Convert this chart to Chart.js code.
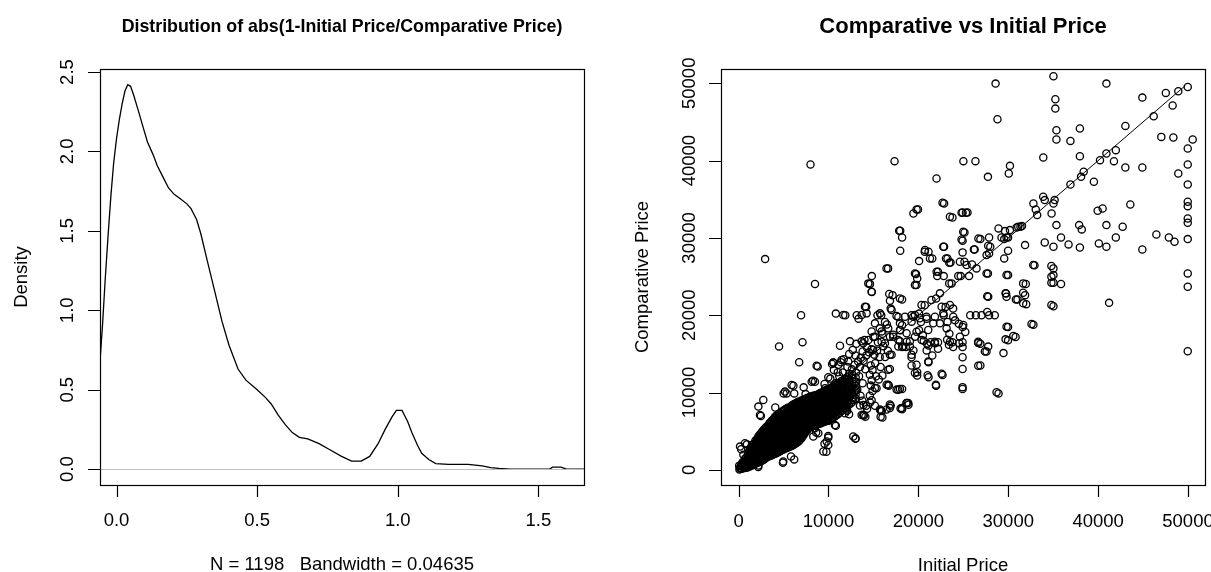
<!DOCTYPE html>
<html>
<head>
<meta charset="utf-8">
<script src="https://cdn.jsdelivr.net/npm/chart.js@4.4.0/dist/chart.umd.min.js"></script>
<style>
  html, body { margin: 0; padding: 0; background: #fff; }
  #wrap { position: relative; width: 1211px; height: 572px; overflow: hidden; }
  .panel { position: absolute; top: 0; height: 572px; }
  #densityPanel { left: 0; width: 605px; }
  #scatterPanel { left: 605px; width: 606px; }
</style>
</head>
<body>
<div id="wrap">
  <div class="panel" id="densityPanel"><canvas id="densityChart"></canvas></div>
  <div class="panel" id="scatterPanel"><canvas id="scatterChart"></canvas></div>
</div>
<script>
// DENSITY CURVE (left panel)
const densityX = [-0.0587, -0.05, -0.04, -0.03, -0.02, -0.01, 0, 0.01, 0.02, 0.03, 0.04, 0.05, 0.06, 0.077, 0.095,
  0.11, 0.13, 0.145, 0.165, 0.185, 0.205, 0.228, 0.25, 0.265, 0.285, 0.3, 0.323, 0.349, 0.375, 0.4, 0.432, 0.46,
  0.5, 0.53, 0.55, 0.575, 0.6, 0.625, 0.65, 0.68, 0.72, 0.76, 0.8, 0.836, 0.87, 0.9, 0.93, 0.955, 0.98, 0.995,
  1.015, 1.035, 1.05, 1.07, 1.085, 1.11, 1.135, 1.18, 1.25, 1.3, 1.33, 1.36, 1.4, 1.5, 1.54, 1.55, 1.58, 1.6, 1.662];
const densityY = [0.68, 0.9, 1.2, 1.47, 1.72, 1.93, 2.08, 2.2, 2.3, 2.38, 2.42, 2.41, 2.36, 2.26, 2.15,
  2.06, 1.98, 1.91, 1.84, 1.77, 1.73, 1.70, 1.67, 1.64, 1.57, 1.48, 1.31, 1.12, 0.93, 0.78, 0.63, 0.56,
  0.50, 0.45, 0.41, 0.34, 0.28, 0.23, 0.20, 0.19, 0.16, 0.12, 0.08, 0.05, 0.05, 0.08, 0.16, 0.25, 0.33, 0.37,
  0.37, 0.30, 0.23, 0.15, 0.10, 0.06, 0.035, 0.03, 0.03, 0.02, 0.01, 0.005, 0, 0, 0, 0.012, 0.012, 0, 0];
const densityTicksX = [0, 0.5, 1, 1.5];
const densityTickLabelsX = ['0.0', '0.5', '1.0', '1.5'];
const densityTicksY = [0, 0.5, 1, 1.5, 2, 2.5];
const densityTickLabelsY = ['0.0', '0.5', '1.0', '1.5', '2.0', '2.5'];

// PRICE SCATTER (right panel): [initial price, comparative price]
// dense band near the origin
const clusterPoints = [
  [90,40],[150,280],[60,520],[200,150],
  [380,130],[420,420],[360,720],[440,980],
  [680,230],[720,520],[690,820],[740,1120],[700,1440],
  [980,320],[1030,640],[960,960],[1040,1290],[1000,1620],[1020,1960],
  [1290,470],[1320,800],[1270,1130],[1340,1460],[1300,1800],[1280,2130],[1330,2460],[1300,2760],
  [1600,620],[1570,960],[1630,1300],[1590,1640],[1620,1980],[1580,2320],[1640,2660],[1600,3000],[1570,3280],
  [1890,820],[1930,1160],[1870,1500],[1920,1850],[1900,2190],[1940,2530],[1880,2870],[1910,3210],[1930,3550],[1870,3790],
  [2200,960],[2170,1310],[2230,1660],[2190,2010],[2240,2360],[2180,2710],[2210,3060],[2250,3410],[2170,3760],[2220,4100],[2190,4320],
  [2490,1110],[2530,1470],[2470,1830],[2520,2190],[2480,2550],[2540,2910],[2500,3270],[2460,3630],[2530,3990],[2490,4350],[2510,4780],
  [2790,1310],[2820,1670],[2770,2030],[2830,2390],[2800,2750],[2760,3110],[2840,3470],[2790,3830],[2810,4190],[2770,4550],[2830,4910],[2800,5200],
  [3100,1600],[3130,1960],[3080,2320],[3120,2680],[3090,3040],[3140,3400],[3070,3760],[3110,4120],[3130,4480],[3080,4840],[3120,5200],[3100,5580],
  [3400,1750],[3370,2110],[3420,2470],[3390,2840],[3430,3200],[3380,3560],[3410,3930],[3440,4290],[3390,4650],[3420,5020],[3370,5380],[3410,5740],[3400,6000],
  [3700,1900],[3730,2270],[3680,2640],[3720,3010],[3690,3380],[3740,3750],[3700,4120],[3670,4490],[3720,4860],[3700,5230],[3740,5600],[3690,5970],[3710,6420],
  [3990,2050],[4030,2420],[3970,2790],[4010,3160],[4040,3530],[3980,3900],[4020,4270],[4000,4640],[4030,5010],[3970,5380],[4010,5750],[4040,6120],[3990,6480],[4020,6790],
  [4300,2200],[4270,2570],[4320,2950],[4290,3320],[4330,3700],[4280,4070],[4310,4450],[4340,4820],[4290,5200],[4320,5570],[4270,5950],[4310,6320],[4330,6700],[4290,7080],
  [4600,2400],[4630,2770],[4580,3140],[4620,3510],[4590,3880],[4640,4250],[4600,4620],[4570,4990],[4620,5360],[4600,5730],[4640,6100],[4590,6470],[4610,6840],[4580,7330],
  [4900,2600],[4870,2970],[4920,3340],[4890,3710],[4930,4080],[4880,4450],[4910,4820],[4940,5190],[4890,5560],[4920,5930],[4870,6300],[4910,6670],[4930,7040],[4880,7580],
  [5200,2750],[5230,3120],[5180,3500],[5220,3870],[5190,4250],[5240,4620],[5200,5000],[5170,5370],[5220,5750],[5200,6120],[5240,6500],[5190,6870],[5210,7250],[5180,7840],
  [5500,2900],[5470,3280],[5520,3660],[5490,4040],[5530,4420],[5480,4800],[5510,5180],[5540,5560],[5490,5940],[5520,6320],[5470,6700],[5510,7080],[5530,7460],[5490,8030],
  [5800,3050],[5830,3430],[5780,3810],[5820,4190],[5790,4570],[5840,4950],[5800,5330],[5770,5710],[5820,6090],[5800,6470],[5840,6850],[5790,7230],[5810,7610],[5780,7950],[5830,8240],
  [6100,3200],[6070,3580],[6120,3960],[6090,4340],[6130,4720],[6080,5100],[6110,5480],[6140,5860],[6090,6240],[6120,6620],[6070,7000],[6110,7380],[6130,7760],[6080,8120],[6100,8440],
  [6400,3450],[6430,3830],[6380,4210],[6420,4590],[6390,4970],[6440,5350],[6400,5730],[6370,6110],[6420,6490],[6400,6870],[6440,7250],[6390,7630],[6410,8010],[6380,8360],[6430,8640],
  [6700,3700],[6670,4080],[6720,4460],[6690,4840],[6730,5220],[6680,5600],[6710,5980],[6740,6360],[6690,6740],[6720,7120],[6670,7500],[6710,7880],[6730,8260],[6690,8600],[6700,8840],
  [7000,4100],[7030,4480],[6980,4860],[7020,5240],[6990,5620],[7040,6000],[7000,6380],[6970,6760],[7020,7140],[7000,7520],[7040,7900],[6990,8280],[7010,8650],[7020,8990],
  [7300,4600],[7270,4980],[7320,5360],[7290,5740],[7330,6120],[7280,6500],[7310,6880],[7340,7260],[7290,7640],[7320,8020],[7270,8400],[7310,8780],[7300,9140],
  [7600,5100],[7630,5470],[7580,5840],[7620,6210],[7590,6580],[7640,6950],[7600,7320],[7570,7690],[7620,8060],[7600,8430],[7640,8800],[7590,9290],
  [7900,5500],[7870,5870],[7920,6240],[7890,6610],[7930,6980],[7880,7350],[7910,7720],[7940,8090],[7890,8460],[7920,8830],[7870,9200],[7910,9440],
  [8200,5650],[8230,6020],[8180,6390],[8220,6760],[8190,7130],[8240,7500],[8200,7870],[8170,8240],[8220,8610],[8200,8980],[8240,9350],[8190,9540],
  [8500,5750],[8470,6130],[8520,6510],[8490,6890],[8530,7270],[8480,7650],[8510,8030],[8540,8410],[8490,8790],[8520,9170],[8470,9640],
  [8800,5900],[8830,6280],[8780,6660],[8820,7040],[8790,7420],[8840,7800],[8800,8180],[8770,8560],[8820,8940],[8800,9320],[8840,9790],
  [9100,6000],[9070,6390],[9120,6780],[9090,7170],[9130,7560],[9080,7950],[9110,8340],[9140,8730],[9090,9120],[9120,9510],[9070,9940],
  [9400,6150],[9430,6550],[9380,6950],[9420,7350],[9390,7750],[9440,8150],[9400,8550],[9370,8950],[9420,9350],[9400,9750],[9440,10090],
  [9700,6300],[9670,6710],[9720,7120],[9690,7530],[9730,7940],[9680,8350],[9710,8760],[9740,9170],[9690,9580],[9720,9990],[9680,10290],
  [10000,6450],[10030,6870],[9980,7290],[10020,7710],[9990,8130],[10040,8550],[10000,8970],[9970,9390],[10020,9810],[10000,10230],[10040,10490],
  [10350,6650],[10320,7080],[10370,7510],[10340,7940],[10380,8370],[10330,8800],[10360,9230],[10390,9660],[10340,10090],[10370,10690],
  [10700,6900],[10730,7340],[10680,7780],[10720,8220],[10690,8660],[10740,9100],[10700,9540],[10670,9980],[10720,10420],[10700,10940],
  [11050,7200],[11020,7660],[11070,8120],[11040,8580],[11080,9040],[11030,9500],[11060,9960],[11090,10420],[11040,10850],[11060,11190],
  [11450,7600],[11420,8070],[11470,8540],[11440,9010],[11480,9480],[11430,9950],[11460,10420],[11490,10890],[11440,11480],
  [11850,8000],[11880,8480],[11830,8960],[11870,9440],[11840,9920],[11890,10400],[11850,10880],[11820,11360],[11870,11790],
  [12250,8400],[12220,8900],[12270,9400],[12240,9900],[12280,10400],[12230,10900],[12260,11400],[12240,12080],
  [12650,8800],[12680,9320],[12630,9840],[12670,10360],[12640,10880],[12690,11400],[12650,11900],[12630,12380],
  [13050,9200],[13020,9750],[13070,10300],[13040,10850],[13080,11400],[13030,11950],[13060,12580]
];
// more points packed inside the same band
const clusterFillPoints = [
  [250,220],[260,520],
  [540,280],[560,570],[550,850],
  [840,280],[860,580],[850,890],[870,1210],[830,1530],
  [1140,400],[1160,720],[1130,1050],[1170,1380],[1150,1710],[1140,2050],[1160,2380],
  [1440,550],[1460,880],[1430,1220],[1470,1550],[1450,1890],[1440,2230],[1460,2560],[1450,2880],
  [1740,720],[1760,1060],[1730,1400],[1770,1740],[1750,2080],[1740,2430],[1760,2760],[1750,3100],[1740,3420],
  [2040,890],[2060,1230],[2030,1580],[2070,1930],[2050,2270],[2040,2620],[2060,2960],[2050,3310],[2040,3650],[2060,3950],
  [2340,1040],[2360,1390],[2330,1750],[2370,2100],[2350,2450],[2340,2810],[2360,3160],[2350,3520],[2340,3870],[2360,4210],[2350,4550],
  [2640,1210],[2660,1570],[2630,1930],[2670,2290],[2650,2650],[2640,3010],[2660,3370],[2650,3730],[2640,4090],[2660,4450],[2650,4990],
  [2940,1450],[2960,1810],[2930,2170],[2970,2530],[2950,2890],[2940,3250],[2960,3610],[2950,3970],[2940,4330],[2960,4690],[2950,5050],[2940,5390],
  [3240,1680],[3260,2040],[3230,2400],[3270,2760],[3250,3120],[3240,3480],[3260,3840],[3250,4200],[3240,4560],[3260,4930],[3250,5290],[3240,5660],
  [3540,1830],[3560,2190],[3530,2560],[3570,2920],[3550,3290],[3540,3650],[3560,4020],[3550,4380],[3540,4750],[3560,5120],[3550,5490],[3540,5850],[3560,6200],
  [3840,1980],[3860,2350],[3830,2720],[3870,3090],[3850,3460],[3840,3830],[3860,4200],[3850,4570],[3840,4940],[3860,5310],[3850,5680],[3840,6050],[3860,6500],
  [4140,2130],[4160,2500],[4130,2870],[4170,3240],[4150,3620],[4140,3990],[4160,4360],[4150,4740],[4140,5110],[4160,5480],[4150,5850],[4140,6220],[4160,6600],[4150,6950],
  [4440,2300],[4460,2670],[4430,3050],[4470,3420],[4450,3790],[4440,4160],[4460,4540],[4450,4910],[4440,5280],[4460,5650],[4450,6030],[4440,6400],[4460,6770],[4450,7200],
  [4740,2500],[4760,2870],[4730,3240],[4770,3610],[4750,3980],[4740,4350],[4760,4720],[4750,5090],[4740,5460],[4760,5830],[4750,6200],[4740,6570],[4760,6940],[4750,7450],
  [5040,2680],[5060,3050],[5030,3420],[5070,3790],[5050,4170],[5040,4540],[5060,4910],[5050,5280],[5040,5650],[5060,6030],[5050,6400],[5040,6770],[5060,7140],[5050,7700],
  [5340,2830],[5360,3200],[5330,3580],[5370,3960],[5350,4340],[5340,4710],[5360,5090],[5350,5470],[5340,5840],[5360,6220],[5350,6600],[5340,6970],[5360,7350],[5350,7930],
  [5640,2980],[5660,3360],[5630,3740],[5670,4120],[5650,4500],[5640,4880],[5660,5260],[5650,5640],[5640,6020],[5660,6400],[5650,6780],[5640,7160],[5660,7540],[5650,8000],
  [5940,3130],[5960,3510],[5930,3890],[5970,4270],[5950,4650],[5940,5030],[5960,5410],[5950,5790],[5940,6170],[5960,6550],[5950,6930],[5940,7310],[5960,7690],[5950,8080],[5940,8340],
  [6240,3330],[6260,3710],[6230,4090],[6270,4470],[6250,4850],[6240,5230],[6260,5610],[6250,5990],[6240,6370],[6260,6750],[6250,7130],[6240,7510],[6260,7890],[6250,8240],[6240,8540],
  [6540,3580],[6560,3960],[6530,4340],[6570,4720],[6550,5100],[6540,5480],[6560,5860],[6550,6240],[6540,6620],[6560,7000],[6550,7380],[6540,7760],[6560,8140],[6550,8480],[6540,8740],
  [6840,3900],[6860,4280],[6830,4660],[6870,5040],[6850,5420],[6840,5800],[6860,6180],[6850,6560],[6840,6940],[6860,7320],[6850,7700],[6840,8080],[6860,8460],[6850,8800],
  [7140,4350],[7160,4730],[7130,5110],[7170,5490],[7150,5870],[7140,6250],[7160,6630],[7150,7010],[7140,7390],[7160,7770],[7150,8150],[7140,8530],[7160,8900],
  [7440,4850],[7460,5220],[7430,5600],[7470,5970],[7450,6350],[7440,6720],[7460,7100],[7450,7470],[7440,7850],[7460,8220],[7450,8600],[7440,9000],
  [7740,5300],[7760,5670],[7730,6040],[7770,6410],[7750,6780],[7740,7150],[7760,7520],[7750,7890],[7740,8260],[7760,8630],[7750,9050],
  [8040,5580],[8060,5950],[8030,6320],[8070,6690],[8050,7060],[8040,7430],[8060,7800],[8050,8170],[8040,8540],[8060,8910],[8050,9300],
  [8340,5700],[8360,6080],[8330,6460],[8370,6840],[8350,7220],[8340,7600],[8360,7980],[8350,8360],[8340,8740],[8360,9120],[8350,9450],
  [8640,5830],[8660,6210],[8630,6590],[8670,6970],[8650,7350],[8640,7730],[8660,8110],[8650,8490],[8640,8870],[8660,9250],[8650,9580],
  [8940,5950],[8960,6330],[8930,6720],[8970,7110],[8950,7490],[8940,7880],[8960,8260],[8950,8650],[8940,9030],[8960,9420],[8950,9750],
  [9240,6080],[9260,6470],[9230,6870],[9270,7260],[9250,7660],[9240,8050],[9260,8450],[9250,8840],[9240,9240],[9260,9630],[9250,9970],
  [9540,6230],[9560,6630],[9530,7040],[9570,7440],[9550,7850],[9540,8250],[9560,8660],[9550,9060],[9540,9470],[9560,9870],[9550,10150],
  [9840,6380],[9860,6790],[9830,7210],[9870,7620],[9850,8040],[9840,8450],[9860,8870],[9850,9280],[9840,9700],[9860,10110],[9850,10400],
  [10170,6550],[10190,6980],[10160,7400],[10200,7830],[10180,8250],[10170,8680],[10190,9100],[10180,9530],[10170,9950],[10190,10400],
  [10520,6780],[10540,7210],[10510,7650],[10550,8080],[10530,8520],[10520,8950],[10540,9390],[10530,9820],[10520,10260],[10540,10750],
  [10870,7050],[10890,7500],[10860,7950],[10900,8400],[10880,8850],[10870,9300],[10890,9750],[10880,10200],[10870,10640],[10890,11000],
  [11240,7400],[11260,7870],[11230,8330],[11270,8800],[11250,9260],[11240,9730],[11260,10190],[11250,10660],[11240,11200],
  [11640,7800],[11660,8280],[11630,8750],[11670,9230],[11650,9700],[11640,10180],[11660,10650],[11650,11130],[11640,11600],
  [12040,8200],[12060,8690],[12030,9180],[12070,9670],[12050,10160],[12040,10650],[12060,11140],[12050,11700]
];
// scattered points around the band and in the middle of the range
const midPoints = [
  [160,3010],[710,3450],[530,1940],[290,2660],[930,3300],[2200,560],[2190,360],[4970,1080],[4930,910],[5830,1720],
  [6190,1350],[9430,2370],[9800,3660],[9560,3390],[9980,3220],[9770,2350],[9980,4170],[9980,4390],[8630,4820],[8310,4310],
  [8870,4740],[8490,5380],[10720,5810],[12760,4310],[13010,4040],[10820,5690],[9980,6340],[11830,7320],[12080,7640],[12290,7200],
  [13690,7110],[13870,7140],[14100,6860],[15800,6870],[15910,7600],[16460,7810],[16000,6770],[15870,7640],[16920,8280],[18190,7850],
  [18900,8420],[18020,7920],[18690,8660],[2200,8180],[2380,7110],[2750,9040],[2480,6980],[4080,8070],[5160,10120],[5900,10980],
  [5010,9890],[5350,9890],[6190,9890],[6100,10890],[7240,10670],[7450,9800],[7870,9370],[8130,11410],[8290,11540],[8500,11400],
  [9560,11100],[9610,10550],[9980,11970],[10400,13700],[10540,13870],[11460,14210],[11370,13920],[11030,12620],[10720,9480],[8680,13470],
  [10530,13900],[6950,19990],[4500,15970],[7110,16520],[6740,13920],[8800,13360],[10820,20210],[11650,20030],[11870,19990],[13140,19990],
  [13350,19560],[14190,21080],[15450,19990],[15870,19990],[16290,19130],[16920,20860],[17770,19780],[18190,18700],[17980,18050],[19240,19990],
  [20080,20210],[20290,19130],[20080,18050],[20500,17400],[20920,19560],[20710,21300],[21980,22170],[21130,16100],[20920,15450],[21340,16520],
  [22190,16520],[22190,15660],[21550,14800],[21130,13920],[21130,11970],[21970,10890],[22690,12270],[19870,12620],[19870,12190],[19240,13490],
  [19240,14570],[19450,15450],[18190,15880],[18610,15880],[18190,10460],[16710,10890],[15870,7640],[13010,4040],[14610,24030],[14820,23020],
  [17130,22600],[18190,22030],[19790,23900],[27660,22470],[29760,22820],[31030,22030],[31870,22600],[32000,21430],[35030,21170],[41220,21600],
  [49970,15350],[23240,19130],[22820,19990],[23030,21080],[23870,20860],[24080,19340],[24500,18910],[24920,18480],[25220,17830],[24920,16520],
  [24920,15880],[24920,14570],[24920,13050],[24920,10700],[24920,10450],[23790,16520],[23870,15880],[23450,17610],[25770,19990],[26400,19990],
  [27030,19990],[27660,20430],[27870,19990],[28500,19990],[26900,16300],[27580,15310],[26900,13490],[29470,15100],[29980,18480],[29980,16750],
  [30820,17180],[32800,18780],[28920,9890],[26660,16410],[27400,15320],[26660,13480],[28700,10030],[22590,12440],[21950,11020],[21030,12230],
  [20970,16300],[21100,14030],[20600,16700],[21850,16390],[23200,16830],[23400,16190],[19620,12530],[19800,13600],[19250,14890],[19060,15970],
  [18320,15970],[17770,15970],[16830,14890],[16830,13050],[16650,11020],[17950,10460],[17580,10380],[18690,8660],[16830,8450],[15170,8290],
  [14620,8720],[13940,7020],[15350,10550],[14800,9000],[14600,9600],[14900,10200],[14700,10900],[14800,11600],[14600,12300],[14900,12900],
  [11200,12100],[11600,12600],[11900,11800],[12300,12400],[12600,13000],[12100,13300],[12900,13600],[13300,14000],[13600,14500],[13900,14100],
  [14200,14800],[14500,15200],[14800,15600],[14300,15800],[13800,15300],[15100,14900],[15400,15400],[15700,14600],[15200,13800],[14700,13500],
  [15300,12100],[15600,11700],[16000,12200],[15800,13300],[16300,14600],[16600,15400],[16100,16000],[13100,16300],[12700,15500],[12300,15000],
  [11700,14300],[11100,13600],[10600,12900],[10200,11800],[10800,11200],[11400,10600],[12000,10100],[12600,9900],[13200,10400],[13800,11200],
  [13400,12100],[12900,11400],[13000,9200],[12500,8600],[11800,9200],[11300,9500],[10900,10100],[13900,8400],[14300,7900],[13500,13300],
  [14100,13000],[12200,14000],[13000,14800],[15500,16500],[14000,16800],[15000,17200],[16000,17600],[15700,18300],[16500,18800],[11280,16060],
  [12390,16620],[13690,16620],[14800,17910],[15910,17910],[17200,17480],[17950,16620],[19060,16620],[17020,14900],[16650,12960],[15170,10590],
  [16470,11020],[17760,10370],[16830,8010],[18140,8010],[18870,8660],[15720,7790],[12020,7790],[13500,8310],[12760,9080],[9560,8280],
  [9770,7200],[9980,6340],[10610,10450],[11030,9800],[10190,9150],[12080,11970],[11660,11320],[12920,10240],[13560,9590],[13770,8940],
  [14190,8280],[14060,21100],[14430,24120],[14800,23040],[15730,20240],[14240,20240],[13690,20030],[15170,18950],[16650,18300],[17950,18950],
  [18690,17660],[19800,17870],[21100,18090],[21660,18950],[22400,18950],[23140,18300],[23880,19810],[24990,18740],[23510,16580],[24550,16370],
  [24620,17230],[21840,16580],[20360,16800],[19620,17230],[18690,16580],[17770,16800],[16840,17230],[15910,16580],[15170,17230],[14430,16800],
  [13870,16370],[23510,21320],[22590,21100],[22770,20240],[21840,19810],[20910,19810],[20160,19600],[19620,20030],[19250,19170],[18510,19810],
  [17570,19900],[17020,20670],[16840,21880],[17950,22180],[16760,22740],[29810,22400],[29810,18520],[29700,16880],[30560,17310],[26650,16580],
  [27770,15940],[29700,22830],[31660,22910],[30850,22050],[31660,21540],[32590,18860],[34800,21320],[27770,22400],
  [14980,15500],[16280,16370],[17200,17230],[17950,18090],[19430,19810],[20350,21320],[21460,21970],[22400,22830],[23430,24120],[24440,25070],
  [24620,26920],[27590,27780],[27770,28990],[29250,30060],[29810,30060]
];
// sparse points in the upper part of the range
const outerPoints = [
  [2950,27260],[8000,39500],[8500,24030],[17350,39930],[28590,49960],[28800,45350],[25010,39930],[26350,39930],[22020,37690],[27740,37900],
  [30190,39320],[30060,38330],[35030,50910],[35240,47940],[35240,46730],[35360,43930],[35360,42730],[36920,42550],[37970,44150],[40920,49960],
  [43030,44490],[44920,48150],[46180,45740],[47530,48760],[48290,47120],[48920,48970],[49970,49530],[47030,43070],[48370,42980],[50520,42730],
  [49970,41560],[49970,39500],[48920,38330],[49970,36910],[49970,34670],[49970,34110],[49970,32520],[49970,31960],[49970,29850],[48500,29500],
  [47870,30060],[46480,30450],[44920,28510],[44920,39110],[43030,39110],[43580,34330],[41760,39930],[41970,41350],[40920,40920],[40210,40060],
  [37970,40570],[38390,38550],[38100,37900],[39530,37260],[36920,36910],[33890,35320],[32800,34460],[33060,33680],[33220,32950],[34820,33160],
  [35160,34890],[35360,31660],[34060,29420],[35030,28860],[35870,30060],[36710,29160],[37970,28770],[37890,31660],[38180,31100],[39950,33510],
  [40500,33810],[40920,31660],[40080,29290],[40920,28860],[41970,30060],[42730,31440],[31870,29070],[31360,31440],[30190,31010],[29640,30880],
  [28920,31230],[29550,29850],[29980,30060],[27870,30060],[26900,29850],[28000,28860],[29980,28340],[29550,27350],[27870,28000],[26260,28510],
  [25130,30710],[24920,29640],[24920,28130],[25130,26920],[25970,26570],[26470,26060],[27740,25410],[29980,25190],[24920,33290],[25470,33290],
  [23790,32650],[22860,34460],[22860,28860],[23240,27350],[23580,26830],[21130,28210],[20710,28210],[21550,27350],[20080,27000],[19450,33160],
  [19960,33680],[17980,30920],[18190,30060],[17980,28340],[16630,26060],[22190,25630],[22820,25060],[22100,25060],[19740,25320],[19870,24750],
  [14820,25060],[14610,24030],[31950,24030],[32920,26480],[35030,26060],[35030,25190],[35030,24200],[35870,24030],[49970,25410],[49970,23690],
  [23700,24120],[24710,25060],[25640,25060],[31110,31440],[31530,31530],[34060,34890],[35030,34460],[33900,40400],[30930,31350],[32780,26490],
  [34800,26360],[34800,24980],[34800,24210],[31660,24120],[29810,25200],[27590,25410],[25370,26490],[22030,25630],[19620,25410],[19620,23900],
  [23070,27350],[23440,26790],[21290,27350],[20740,28430],[22770,28860],[26180,28510],[26680,29930],[24990,30790],[24810,29800],[24810,33250],
  [25300,33250],[23510,32730],[22690,34540],[19800,33680],[17870,30920],[16460,26060]
];
const fitLine = [[0, 0], [49700, 49700]];
const priceTicks = [0, 10000, 20000, 30000, 40000, 50000];
const priceTickLabels = ['0', '10000', '20000', '30000', '40000', '50000'];

// R-STYLE FRAME: box, outward ticks, rotated y labels, titles
const FONT = '"Liberation Sans", Arial, sans-serif';
const rFrame = {
  id: 'rFrame',
  afterDatasetsDraw(chart, args, o) {
    const { ctx, chartArea: a } = chart;
    const xs = chart.scales.x, ys = chart.scales.y;
    ctx.save();
    if (o.zeroLine) {
      const y0 = Math.round(ys.getPixelForValue(0)) + 0.5;
      ctx.strokeStyle = '#bebebe';
      ctx.lineWidth = 1;
      ctx.beginPath(); ctx.moveTo(a.left, y0); ctx.lineTo(a.right, y0); ctx.stroke();
    }
    ctx.strokeStyle = '#000';
    ctx.lineWidth = 1.2;
    ctx.strokeRect(a.left + 0.5, a.top + 0.5, a.right - a.left, a.bottom - a.top);

    ctx.beginPath();
    o.xTicks.forEach(v => {
      const p = Math.round(xs.getPixelForValue(v)) + 0.5;
      ctx.moveTo(p, a.bottom); ctx.lineTo(p, a.bottom + 12);
    });
    o.yTicks.forEach(v => {
      const p = Math.round(ys.getPixelForValue(v)) + 0.5;
      ctx.moveTo(a.left, p); ctx.lineTo(a.left - 12, p);
    });
    ctx.stroke();

    ctx.fillStyle = '#000';
    ctx.textAlign = 'center';
    ctx.textBaseline = 'alphabetic';
    ctx.font = '18.5px ' + FONT;
    o.xTicks.forEach((v, i) => ctx.fillText(o.xLabels[i], xs.getPixelForValue(v), o.xTickBase));
    o.yTicks.forEach((v, i) => {
      ctx.save();
      ctx.translate(o.yTickBase, ys.getPixelForValue(v));
      ctx.rotate(-Math.PI / 2);
      ctx.fillText(o.yLabels[i], 0, 0);
      ctx.restore();
    });

    const cx = (a.left + a.right) / 2, cy = (a.top + a.bottom) / 2;
    ctx.fillText(o.xTitle, cx, o.xTitleBase);
    ctx.save();
    ctx.translate(o.yTitleBase, cy);
    ctx.rotate(-Math.PI / 2);
    ctx.fillText(o.yTitle, 0, 0);
    ctx.restore();

    ctx.font = o.mainFont;
    ctx.fillText(o.main, cx, o.mainBase);
    ctx.restore();
  }
};

function baseOptions(padding, xMin, xMax, yMin, yMax, frame) {
  return {
    responsive: true,
    maintainAspectRatio: false,
    animation: false,
    events: [],
    layout: { padding },
    plugins: { legend: { display: false }, tooltip: { enabled: false }, rFrame: frame },
    scales: {
      x: { type: 'linear', display: false, min: xMin, max: xMax },
      y: { type: 'linear', display: false, min: yMin, max: yMax }
    }
  };
}

// LEFT: density
new Chart(document.getElementById('densityChart'), {
  type: 'line',
  data: {
    datasets: [{
      data: densityX.map((x, i) => ({ x, y: densityY[i] })),
      borderColor: '#000',
      borderWidth: 1.3,
      pointRadius: 0,
      tension: 0,
      fill: false
    }]
  },
  options: baseOptions({ left: 100, right: 21, top: 69, bottom: 87 }, -0.0587, 1.662, -0.1, 2.519, {
    zeroLine: true,
    xTicks: densityTicksX, xLabels: densityTickLabelsX, xTickBase: 526,
    yTicks: densityTicksY, yLabels: densityTickLabelsY, yTickBase: 73,
    xTitle: 'N = 1198   Bandwidth = 0.04635', xTitleBase: 570,
    yTitle: 'Density', yTitleBase: 27,
    main: 'Distribution of abs(1-Initial Price/Comparative Price)', mainBase: 32,
    mainFont: 'bold 17.8px ' + FONT
  }),
  plugins: [rFrame]
});

// RIGHT: comparative vs initial price
const allPoints = clusterPoints.concat(clusterFillPoints, midPoints, outerPoints);
new Chart(document.getElementById('scatterChart'), {
  type: 'scatter',
  data: {
    datasets: [{
      data: allPoints.map(p => ({ x: p[0], y: p[1] })),
      pointStyle: 'circle',
      pointRadius: 3.6,
      pointBorderWidth: 1.3,
      pointBorderColor: '#000',
      pointBackgroundColor: 'rgba(0,0,0,0)'
    }, {
      data: fitLine.map(p => ({ x: p[0], y: p[1] })),
      showLine: true,
      borderColor: '#000',
      borderWidth: 1,
      pointRadius: 0
    }]
  },
  options: baseOptions({ left: 116, right: 6, top: 69, bottom: 87 }, -1958, 51890, -1960, 51850, {
    zeroLine: false,
    xTicks: priceTicks, xLabels: priceTickLabels, xTickBase: 527,
    yTicks: priceTicks, yLabels: priceTickLabels, yTickBase: 90,
    xTitle: 'Initial Price', xTitleBase: 571,
    yTitle: 'Comparative Price', yTitleBase: 43,
    main: 'Comparative vs Initial Price', mainBase: 33,
    mainFont: 'bold 22px ' + FONT
  }),
  plugins: [rFrame]
});
</script>
</body>
</html>
